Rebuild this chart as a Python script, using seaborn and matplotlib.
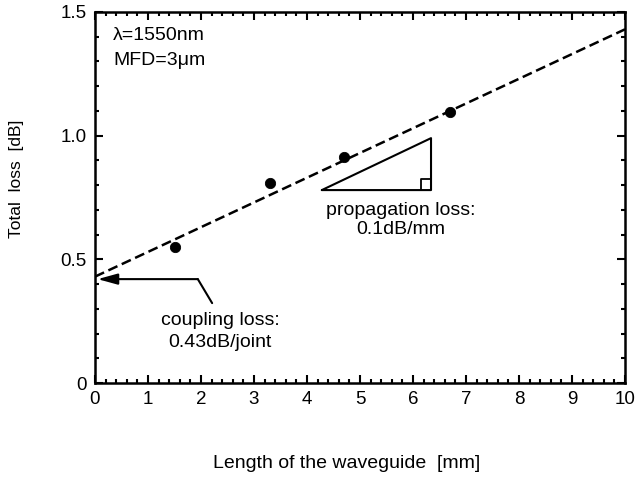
import matplotlib
matplotlib.use("Agg")
import matplotlib.pyplot as plt
import seaborn as sns
import numpy as np
import pandas as pd
from matplotlib.ticker import MultipleLocator, FuncFormatter

length_mm = [1.5, 3.3, 4.7, 6.7]
total_loss_db = [0.55, 0.81, 0.915, 1.095]
fit_x = [0, 10]
fit_y = [0.43, 1.43]

sns.set_theme(style="ticks")
plt.rcParams['font.family'] = ['Liberation Sans', 'DejaVu Sans']
plt.rcParams.update({"text.color": "black", "axes.labelcolor": "black",
                     "xtick.color": "black", "ytick.color": "black",
                     "xtick.labelcolor": "black", "ytick.labelcolor": "black"})

W, H = 636, 480
fig = plt.figure(figsize=(6.36, 4.8), dpi=100)
ax = fig.add_axes([95/W, 1-383/H, (625-95)/W, (383-12)/H])

df = pd.DataFrame({"x": length_mm, "y": total_loss_db})
sns.lineplot(x=fit_x, y=fit_y, ax=ax, color="black", linestyle=(0, (4.0, 1.9)), linewidth=1.8)
sns.scatterplot(data=df, x="x", y="y", ax=ax, color="black", s=55, edgecolor="black", zorder=5)

ax.set_xlim(0, 10)
ax.set_ylim(0, 1.5)
ax.xaxis.set_major_locator(MultipleLocator(1))
ax.xaxis.set_minor_locator(MultipleLocator(0.2))
ax.yaxis.set_major_locator(MultipleLocator(0.5))
ax.yaxis.set_minor_locator(MultipleLocator(0.1))
ax.yaxis.set_major_formatter(FuncFormatter(lambda v, p: "0" if v == 0 else f"{v:.1f}"))
ax.tick_params(which="both", direction="in", top=True, right=True, color="black",
               labelcolor="black", labelsize=13.5, width=1.5)
ax.tick_params(which="major", length=6, pad=6)
ax.tick_params(which="minor", length=3)
for s in ax.spines.values():
    s.set_linewidth(1.8)
    s.set_color("black")

ax.set_xlabel("")
ax.set_ylabel("")
fig.text(347/W, 1-463/H, "Length of the waveguide  [mm]", fontsize=14, ha="center", va="center", color="black")
fig.text(17/W, 1-179/H, "Total  loss  [dB]", fontsize=12.5, ha="center", va="center", rotation=90, color="black")

ax.text(0.34, 1.407, "λ=1550nm", fontsize=14, ha="left", va="center", color="black")
ax.text(0.34, 1.302, "MFD=3μm", fontsize=14, ha="left", va="center", color="black")

# triangle
x0, x1, y0, y1 = 4.28, 6.34, 0.78, 0.99
ax.plot([x0, x1, x1, x0], [y0, y0, y1, y0], color="black", linewidth=1.5)
sqx, sqy = 0.19, 0.044
ax.plot([x1 - sqx, x1 - sqx, x1], [y0, y0 + sqy, y0 + sqy], color="black", linewidth=1.3)
ax.text(5.77, 0.697, "propagation loss:", fontsize=14, ha="center", va="center", color="black")
ax.text(5.77, 0.619, "0.1dB/mm", fontsize=14, ha="center", va="center", color="black")

# coupling arrow
ax.plot([2.21, 1.94], [0.323, 0.42], color="black", linewidth=1.5)
ax.annotate("", xy=(0.05, 0.42), xytext=(1.94, 0.42),
            arrowprops=dict(arrowstyle="-|>,head_length=0.8,head_width=0.22", color="black", lw=1.5,
                            mutation_scale=15, shrinkA=0, shrinkB=0))
ax.text(2.36, 0.251, "coupling loss:", fontsize=14, ha="center", va="center", color="black")
ax.text(2.36, 0.162, "0.43dB/joint", fontsize=14, ha="center", va="center", color="black")

fig.savefig("out.png", dpi=100)
